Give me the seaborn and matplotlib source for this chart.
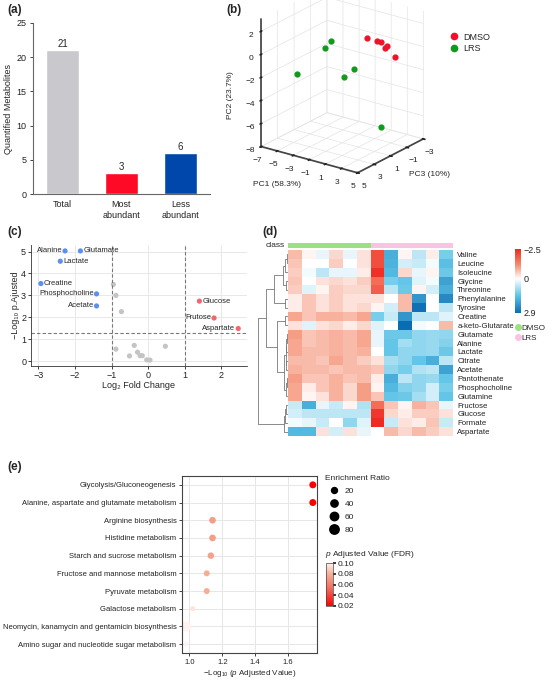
import numpy as np
import pandas as pd
import matplotlib
matplotlib.use("Agg")
import matplotlib.pyplot as plt
import seaborn as sns
from matplotlib.colors import LinearSegmentedColormap, ListedColormap, Normalize
from matplotlib.lines import Line2D

# ---------------- data ----------------
# (a) quantified metabolites
bar_cats = ["Total", "Most\nabundant", "Less\nabundant"]
bar_vals = [21, 3, 6]
bar_cols = ["#c9c8cd", "#ff0a26", "#0047ab"]

# (b) PCA scores
dmso_pc1 = [0.05, 1.34, 1.81, 2.28, 2.52, 3.58]
dmso_pc3 = [-1.0, -1.0, -1.0, -1.0, -1.0, -1.0]
dmso_pc2 = [0.53, 0.51, 0.52, 0.09, 0.31, -0.43]
lrs_pc1 = [-4.41, -5.23, -5.57, -0.59, -0.78, 4.82]
lrs_pc3 = [-1.0, -1.0, 2.0, 0.0, 1.0, 2.0]
lrs_pc2 = [-0.53, -1.36, -2.53, -1.92, -2.27, -5.19]

# (c) volcano
volc_names = ["Alanine", "Glutamate", "Lactate", "Creatine", "Phosphocholine", "Acetate",
              "Glucose", "Frutose", "Aspartate",
              "", "", "", "", "", "", "", "", "", "", "", ""]
volc_fc = [-2.27, -1.85, -2.40, -2.93, -1.41, -1.41,
           1.40, 1.80, 2.46,
           -0.95, -0.88, -0.73, -0.88, -0.38, -0.29, -0.22, -0.16, -0.51, -0.04, 0.05, 0.47]
volc_p = [5.03, 5.03, 4.56, 3.54, 3.07, 2.52,
          2.74, 1.97, 1.49,
          3.50, 3.00, 2.26, 0.55, 0.72, 0.41, 0.25, 0.25, 0.24, 0.06, 0.05, 0.68]
volc_grp = ["down"] * 6 + ["up"] * 3 + ["ns"] * 12

# (d) heatmap
heat_rows = ["Valine", "Leucine", "Isoleucine", "Glycine", "Threonine", "Phenylalanine",
             "Tyrosine", "Creatine", "a-keto-Glutarate", "Glutamate", "Alanine", "Lactate",
             "Citrate", "Acetate", "Pantothenate", "Phosphocholine", "Glutamine",
             "Fructose", "Glucose", "Formate", "Aspartate"]
heat_class = ["DMSO"] * 6 + ["LRS"] * 6
heat_vals = [
    [-0.7, -0.1, 0.2, -0.4, 0.2, -0.3, -2.0, 1.8, -0.1, 0.6, -0.2, 1.2],
    [-0.6, 0.0, 0.0, -0.5, 0.0, -0.3, -2.0, 1.7, 0.4, 0.5, 0.1, 1.5],
    [-0.5, 0.1, 0.6, 0.2, 0.2, -0.2, -2.4, 1.6, -0.4, 0.2, -0.1, 1.3],
    [-0.6, 0.0, -0.3, -0.4, -0.3, -0.5, -1.6, 1.2, 1.4, 0.3, 0.1, 2.0],
    [-0.5, 0.3, -0.1, -0.5, -0.4, -0.4, -1.8, 0.6, 1.3, -0.1, 0.4, 1.8],
    [-0.2, -0.6, -0.3, -0.5, -0.3, -0.3, -0.3, 0.0, -0.7, 2.2, 0.0, 2.4],
    [-0.2, -0.6, -0.3, -0.5, -0.3, -0.4, -0.1, 0.4, -0.7, 2.8, 0.0, 0.6],
    [-0.9, -0.6, -0.8, -0.8, -0.7, -0.9, 1.2, 0.5, 2.2, 0.6, 0.6, 0.3],
    [-0.3, 0.3, -0.3, -0.4, -0.2, -0.4, 0.3, 0.0, 2.9, 0.1, 0.0, -0.7],
    [-1.0, -0.6, -0.7, -0.8, -0.7, -0.9, 0.2, 1.3, 1.3, 1.0, 0.9, 1.0],
    [-0.9, -0.6, -0.7, -0.8, -0.7, -0.9, 0.2, 1.4, 0.8, 1.0, 0.9, 1.1],
    [-0.9, -0.7, -0.7, -0.8, -0.7, -0.8, 0.0, 1.4, 1.0, 1.0, 0.9, 1.3],
    [-0.7, -0.7, -0.6, -0.9, -0.7, -0.5, -0.3, 0.8, 1.0, 1.4, 1.8, 0.6],
    [-0.8, -0.7, -0.7, -0.6, -0.7, -0.7, -0.6, 1.0, 1.2, 0.7, 0.6, 2.0],
    [-1.0, -0.6, -0.6, -0.8, -0.6, -0.7, -0.2, 1.8, 0.6, 1.0, 0.9, 1.4],
    [-0.9, -0.2, -0.6, -0.8, -0.4, -1.0, -0.1, 1.6, 1.1, 1.0, 0.4, 1.2],
    [-0.9, -0.1, -0.3, -0.8, -0.4, -1.0, -0.6, 1.4, 1.3, 0.8, 0.4, 1.4],
    [0.5, 1.8, 0.2, 0.5, -0.1, 0.7, -1.6, -0.6, -0.1, -0.8, -0.6, 0.2],
    [0.4, 0.6, 0.6, 0.6, 0.6, 0.6, -2.3, -0.4, -0.2, -0.5, -0.5, -0.3],
    [0.1, 0.2, 0.5, 0.0, 1.0, 0.3, -2.5, 0.5, -0.3, -0.2, -0.6, 0.5],
    [1.6, 1.6, -0.3, 0.4, -0.3, 0.2, 0.0, -0.7, -0.4, -0.7, -0.5, -0.3],
]
# row dendrogram merges: (child a, child b, height); new clusters numbered from 21
row_links = [
    (0, 1, 0.04), (21, 2, 0.09), (3, 4, 0.05), (22, 23, 0.16), (5, 6, 0.09),
    (24, 25, 0.47), (7, 8, 0.11), (9, 10, 0.03), (28, 11, 0.05), (12, 13, 0.05),
    (29, 30, 0.08), (14, 15, 0.04), (32, 16, 0.06), (31, 33, 0.12), (27, 34, 0.37),
    (26, 35, 0.73), (17, 18, 0.06), (37, 19, 0.09), (38, 20, 0.14), (36, 39, 1.0),
]

# (e) pathway enrichment
pathways = ["Glycolysis/Gluconeogenesis",
            "Alanine, aspartate and glutamate metabolism",
            "Arginine biosynthesis",
            "Histidine metabolism",
            "Starch and sucrose metabolism",
            "Fructose and mannose metabolism",
            "Pyruvate metabolism",
            "Galactose metabolism",
            "Neomycin, kanamycin and gentamicin biosynthesis",
            "Amino sugar and nucleotide sugar metabolism"]
path_fdr = [0.0178, 0.0178, 0.0724, 0.0724, 0.0741, 0.0785, 0.0785, 0.0955, 0.1047, 0.1047]
path_ratio = [35, 35, 30, 30, 27, 20, 20, 9, 92, 4]

# ---------------- style ----------------
sns.set_theme(style="white")
plt.rcParams["font.family"] = ["Liberation Sans", "DejaVu Sans"]
plt.rcParams["mathtext.fontset"] = "custom"
plt.rcParams["mathtext.it"] = "Liberation Sans:italic"
plt.rcParams["mathtext.rm"] = "Liberation Sans"
plt.rcParams["axes.edgecolor"] = "#444444"
plt.rcParams["xtick.color"] = "#222222"
plt.rcParams["ytick.color"] = "#222222"

W, H = 550, 681
fig = plt.figure(figsize=(W / 100, H / 100), dpi=100)


def px(x0, y0, x1, y1):
    return [x0 / W, 1 - y1 / H, (x1 - x0) / W, (y1 - y0) / H]


def panel_label(x, y, s):
    fig.text(x / W, 1 - y / H, s, fontsize=8.5, fontweight="bold", va="center", ha="left")


# ---------------- (a) ----------------
ax_a = fig.add_axes(px(33, 23, 210, 194))
sns.barplot(x=bar_cats, y=bar_vals, hue=bar_cats, palette=bar_cols, legend=False,
            width=0.56, saturation=1, ax=ax_a)
for c in ax_a.containers:
    ax_a.bar_label(c, fontsize=7, padding=1)
ax_a.set_ylim(0, 25)
ax_a.set_yticks(range(0, 26, 5))
ax_a.set_ylabel("Quantified Metabolites", fontsize=6.5, labelpad=3)
ax_a.tick_params(axis="both", labelsize=6.5, length=2.5, width=0.6, left=True, bottom=False, pad=2)
sns.despine(ax=ax_a)
for s in ["left", "bottom"]:
    ax_a.spines[s].set_linewidth(0.8)
    ax_a.spines[s].set_color("#666666")
panel_label(7, 10, "(a)")

# ---------------- (b) ----------------
ax_b = fig.add_axes(px(224.5, -21, 454.5, 184), projection="3d")
ax_b.set_proj_type("ortho")
ax_b.scatter(dmso_pc3, dmso_pc1, dmso_pc2, color="#f0102a", s=12, depthshade=False, alpha=1)
ax_b.scatter(lrs_pc3, lrs_pc1, lrs_pc2, color="#0f9a1a", s=12, depthshade=False, alpha=1)
ax_b.set_xlim(-3, 5)
ax_b.set_ylim(-7, 5)
ax_b.set_zlim(-8, 3.1)
ax_b.set_xticks([-3, -1, 1, 3, 5])
ax_b.set_yticks([-7, -5, -3, -1, 1, 3, 5])
ax_b.set_zticks([-8, -6, -4, -2, 0, 2])
ax_b.view_init(elev=22, azim=36)
ax_b.set_box_aspect((0.81, 0.863, 1.0), zoom=1.013)
ax_b.set_xlabel("")
ax_b.set_ylabel("")
ax_b.set_zlabel("")
ax_b.tick_params(labelsize=6, pad=-3)
for axis in [ax_b.xaxis, ax_b.yaxis, ax_b.zaxis]:
    axis.set_pane_color((1, 1, 1, 0))
    axis.pane.set_edgecolor("#555555")
    axis._axinfo["grid"]["color"] = "#e4e4e4"
    axis._axinfo["grid"]["linewidth"] = 0.5
    axis.line.set_color("#444444")
fig.text(277 / W, 1 - 185 / H, "PC1 (58.3%)", fontsize=6, ha="center", va="center")
fig.text(409 / W, 1 - 175 / H, "PC3 (10%)", fontsize=6, ha="left", va="center")
fig.text(231 / W, 1 - 95 / H, "PC2 (23.7%)", fontsize=6, ha="center", va="center", rotation=90)
fig.legend(handles=[Line2D([], [], marker="o", ls="", color="#f0102a", markersize=4.5, label="DMSO"),
                    Line2D([], [], marker="o", ls="", color="#0f9a1a", markersize=4.5, label="LRS")],
           loc="upper left", bbox_to_anchor=(441 / W, 1 - 29 / H), frameon=False, fontsize=6.5,
           handletextpad=0.1, labelspacing=0.3, borderaxespad=0)
panel_label(226, 10, "(b)")

# ---------------- (c) ----------------
ax_c = fig.add_axes(px(31, 245, 247, 366))
volc = pd.DataFrame({"fc": volc_fc, "p": volc_p, "grp": volc_grp, "name": volc_names})
ax_c.set_axisbelow(True)
ax_c.grid(color="#e8e8e8", linewidth=0.7)
sns.scatterplot(data=volc, x="fc", y="p", hue="grp",
                palette={"down": "#5b8ff0", "up": "#f2666f", "ns": "#c4c4c4"},
                s=14, linewidth=0, legend=False, ax=ax_c)
ax_c.axvline(-1, color="#777777", ls=(0, (3, 2)), lw=0.8)
ax_c.axvline(1, color="#777777", ls=(0, (3, 2)), lw=0.8)
ax_c.axhline(-np.log10(0.05), color="#777777", ls=(0, (3, 2)), lw=0.8)
right_side = {"Glutamate", "Lactate", "Creatine", "Glucose"}
for _, r in volc[volc["name"] != ""].iterrows():
    if r["name"] in right_side:
        ax_c.annotate(r["name"], (r["fc"], r["p"]), xytext=(2, 0), textcoords="offset points",
                      fontsize=5.5, va="center", ha="left")
    else:
        ax_c.annotate(r["name"], (r["fc"], r["p"]), xytext=(-2, 0), textcoords="offset points",
                      fontsize=5.5, va="center", ha="right")
ax_c.set_xlim(-3.2, 2.7)
ax_c.set_ylim(-0.22, 5.3)
ax_c.set_xticks([-3, -2, -1, 0, 1, 2])
ax_c.set_yticks([0, 1, 2, 3, 4, 5])
ax_c.set_xlabel("Log₂ Fold Change", fontsize=6.5, labelpad=1)
ax_c.set_ylabel("−Log₁₀ p.Ajusted", fontsize=6.5, labelpad=1)
ax_c.tick_params(labelsize=6.5, length=2, width=0.6, left=True, bottom=True, pad=1.5)
sns.despine(ax=ax_c)
for s in ["left", "bottom"]:
    ax_c.spines[s].set_linewidth(0.6)
    ax_c.spines[s].set_color("#333333")
panel_label(7, 232, "(c)")

# ---------------- (d) ----------------
heat = pd.DataFrame(heat_vals, index=heat_rows)
heat_cmap = LinearSegmentedColormap.from_list(
    "rb", [(0, "#ee2a22"), (0.25, "#f58f72"), (0.463, "#ffffff"), (0.73, "#5ec3e6"), (1, "#0a6cb2")])
ax_d = fig.add_axes(px(288, 250, 453, 436))
cax_d = fig.add_axes(px(515, 249, 521, 313))
sns.heatmap(heat, cmap=heat_cmap, vmin=-2.5, vmax=2.9, ax=ax_d, cbar_ax=cax_d,
            xticklabels=False, yticklabels=True)
ax_d.yaxis.tick_right()
ax_d.set_yticklabels(heat_rows, rotation=0, fontsize=5.6)
ax_d.tick_params(axis="y", length=0, pad=3)
cax_d.set_yticks([-2.5, 0, 2.9])
cax_d.set_yticklabels(["−2.5", "0", "2.9"])
cax_d.invert_yaxis()
cax_d.tick_params(labelsize=6.5, length=0, pad=2)

ax_cls = fig.add_axes(px(288, 243, 453, 247.5))
cls_codes = pd.DataFrame([[0 if c == "DMSO" else 1 for c in heat_class]])
sns.heatmap(cls_codes, cmap=ListedColormap(["#9de07f", "#f9c3e2"]), cbar=False,
            xticklabels=False, yticklabels=False, ax=ax_cls)
fig.text(285 / W, 1 - 246 / H, "class", fontsize=6, ha="right", va="center")

ax_dend = fig.add_axes(px(257, 250, 288, 436))
pos = {i: i + 0.5 for i in range(len(heat_rows))}
hgt = {i: 0.0 for i in range(len(heat_rows))}
for k, (a, b, h) in enumerate(row_links):
    ax_dend.plot([hgt[a], h, h, hgt[b]], [pos[a], pos[a], pos[b], pos[b]],
                 color="#777777", lw=0.6)
    cid = len(heat_rows) + k
    pos[cid] = (pos[a] + pos[b]) / 2
    hgt[cid] = h
ax_dend.set_ylim(len(heat_rows), 0)
ax_dend.set_xlim(1.02, 0)
ax_dend.axis("off")

fig.legend(handles=[Line2D([], [], marker="o", ls="", color="#9de07f", markersize=4, label="DMSO"),
                    Line2D([], [], marker="o", ls="", color="#f9c3e2", markersize=4, label="LRS")],
           loc="upper left", bbox_to_anchor=(510 / W, 1 - 321 / H), frameon=False, fontsize=5.8,
           handletextpad=-0.2, handlelength=1.2, labelspacing=0.25, borderaxespad=0)
panel_label(262, 232, "(d)")

# ---------------- (e) ----------------
fdr_cmap = LinearSegmentedColormap.from_list(
    "fdr", [(0, "#ff0000"), (0.4, "#f26a5a"), (0.75, "#f6b098"), (1, "#fff2ef")])
path = pd.DataFrame({"pathway": pathways, "fdr": path_fdr, "ratio": path_ratio})
path["logp"] = -np.log10(path["fdr"])


def ratio_area(r):
    return 18.5 + (r - 20) / 60 * 27.5


ax_e = fig.add_axes(px(182, 476, 317, 653))
ax_e.set_axisbelow(True)
ax_e.grid(color="#e6e6e6", linewidth=0.7)
sns.scatterplot(data=path, x="logp", y="pathway", hue="fdr", palette=fdr_cmap,
                hue_norm=(0.02, 0.10), size="ratio", size_norm=(0, 100),
                sizes=(ratio_area(0), ratio_area(100)), linewidth=0, legend=False, ax=ax_e)
ax_e.set_ylim(len(pathways) - 0.5, -0.5)
ax_e.set_xlim(0.955, 1.775)
ax_e.set_xticks([1.0, 1.2, 1.4, 1.6])
ax_e.set_xticklabels(["1.0", "1.2", "1.4", "1.6"])
ax_e.set_ylabel("")
ax_e.set_xlabel("−Log₁₀ ($\\it{p}$ Adjusted Value)", fontsize=5.8, labelpad=2)
ax_e.tick_params(labelsize=5.5, length=2, width=0.6, left=True, bottom=True, pad=2)
for s in ax_e.spines.values():
    s.set_linewidth(0.8)
    s.set_color("#444444")

size_levels = [20, 40, 60, 80]
fig.legend(handles=[Line2D([], [], marker="o", ls="", color="black",
                           markersize=np.sqrt(ratio_area(v)), label=str(v)) for v in size_levels],
           title="Enrichment Ratio", loc="upper left", bbox_to_anchor=(322 / W, 1 - 472 / H),
           frameon=False, fontsize=6, title_fontsize=6, alignment="left",
           handletextpad=0.3, labelspacing=0.6, borderaxespad=0)

cax_e = fig.add_axes(px(326, 563, 333, 606))
sm = plt.cm.ScalarMappable(norm=Normalize(0.02, 0.10), cmap=fdr_cmap)
cb = fig.colorbar(sm, cax=cax_e)
cb.set_ticks([0.02, 0.04, 0.06, 0.08, 0.10])
cb.set_ticklabels(["0.02", "0.04", "0.06", "0.08", "0.10"])
cb.outline.set_linewidth(0.5)
cax_e.tick_params(labelsize=6, length=2, pad=1)
fig.text(325 / W, 1 - 555 / H, "$\\it{p}$ Adjusted Value (FDR)", fontsize=6, ha="left", va="center")
panel_label(7, 467, "(e)")

fig.savefig("out.png", dpi=100)
